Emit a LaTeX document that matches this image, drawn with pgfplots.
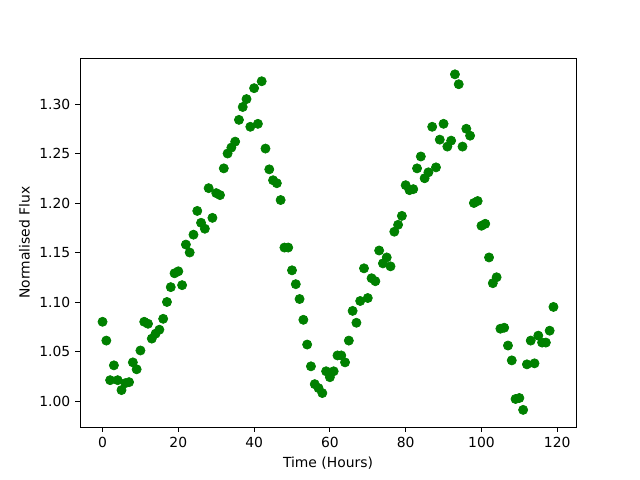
\documentclass[border=0pt]{standalone}
\usepackage{pgfplots}
\pgfplotsset{compat=1.18}
\usepackage{fontspec}
\setmainfont{DejaVu Sans}
\definecolor{mplgreen}{HTML}{008000}
\begin{document}
\begin{tikzpicture}
\useasboundingbox (-57.6pt,-38.16pt) rectangle (403.2pt,307.44pt);
\begin{axis}[
  at={(0,0)}, anchor=south west,
  scale only axis,
  width=357.12pt, height=265.68pt,
  xmin=-5.95, xmax=124.95,
  ymin=0.9737, ymax=1.3465,
  xtick={0,20,40,60,80,100,120},
  ytick={1.00,1.05,1.10,1.15,1.20,1.25,1.30},
  yticklabel style={/pgf/number format/.cd,fixed,fixed zerofill,precision=2},
  /pgf/number format/assume math mode=true,
  tick align=outside,
  xtick pos=bottom, ytick pos=left,
  major tick length=3.5pt,
  tick style={black, line width=0.6pt},
  axis line style={line width=0.6pt},
  ticklabel style={font=\fontsize{10}{12}\selectfont},
  label style={font=\fontsize{10}{12}\selectfont},
  xlabel={Time (Hours)},
  ylabel={Normalised Flux},
]
\addplot[only marks, mark=*, mark size=3.3pt, mplgreen, mark options={fill=mplgreen, draw=mplgreen, line width=0.5pt}] coordinates {
(0,1.080)(1,1.061)(2,1.021)(3,1.036)(4,1.021)(5,1.011)(6,1.018)(7,1.019)(8,1.039)(9,1.032)
(10,1.051)(11,1.080)(12,1.078)(13,1.063)(14,1.068)(15,1.072)(16,1.083)(17,1.100)(18,1.115)(19,1.129)
(20,1.131)(21,1.117)(22,1.158)(23,1.150)(24,1.168)(25,1.192)(26,1.180)(27,1.174)(28,1.215)(29,1.185)
(30,1.210)(31,1.208)(32,1.235)(33,1.250)(34,1.256)(35,1.262)(36,1.284)(37,1.297)(38,1.305)(39,1.277)
(40,1.316)(41,1.280)(42,1.323)(43,1.255)(44,1.234)(45,1.223)(46,1.220)(47,1.203)(48,1.155)(49,1.155)
(50,1.132)(51,1.118)(52,1.103)(53,1.082)(54,1.057)(55,1.035)(56,1.017)(57,1.013)(58,1.008)(59,1.030)
(60,1.024)(61,1.030)(62,1.046)(63,1.046)(64,1.039)(65,1.061)(66,1.091)(67,1.079)(68,1.101)(69,1.134)
(70,1.104)(71,1.124)(72,1.121)(73,1.152)(74,1.139)(75,1.145)(76,1.136)(77,1.171)(78,1.178)(79,1.187)
(80,1.218)(81,1.213)(82,1.214)(83,1.235)(84,1.247)(85,1.225)(86,1.231)(87,1.277)(88,1.236)(89,1.264)
(90,1.280)(91,1.257)(92,1.263)(93,1.330)(94,1.320)(95,1.257)(96,1.275)(97,1.268)(98,1.200)(99,1.202)
(100,1.177)(101,1.179)(102,1.145)(103,1.119)(104,1.125)(105,1.073)(106,1.074)(107,1.056)(108,1.041)(109,1.002)
(110,1.003)(111,0.991)(112,1.037)(113,1.061)(114,1.038)(115,1.066)(116,1.059)(117,1.059)(118,1.071)(119,1.095)
};
\end{axis}
\end{tikzpicture}
\end{document}
